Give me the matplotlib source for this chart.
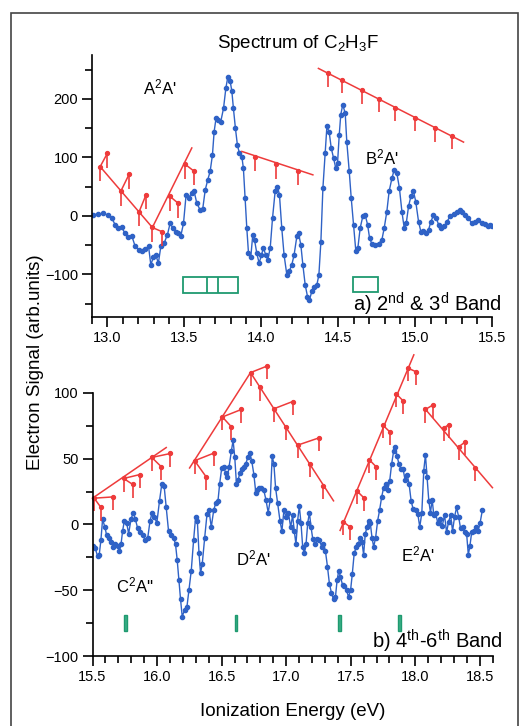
import numpy as np
import matplotlib
matplotlib.use("Agg")
import matplotlib.pyplot as plt
from matplotlib.ticker import MultipleLocator, FormatStrFormatter
from matplotlib.patches import Rectangle

plt.rcParams['font.family'] = ['Liberation Sans', 'DejaVu Sans']
plt.rcParams['mathtext.fontset'] = 'custom'
plt.rcParams['mathtext.rm'] = 'Liberation Sans'
plt.rcParams['mathtext.it'] = 'Liberation Sans'

BLUE = '#2f62c6'
RED = '#ee3b3b'
GREEN = '#1f9a70'

# ---- panel a: 2nd & 3rd band ----
a_energy = [12.909, 12.942, 12.974, 13.007, 13.028, 13.050, 13.072, 13.093, 13.115, 13.137,
            13.158, 13.180, 13.202, 13.223, 13.245, 13.267, 13.282, 13.299, 13.314, 13.331,
            13.347, 13.368, 13.390, 13.407, 13.425, 13.446, 13.461, 13.476, 13.494, 13.511,
            13.528, 13.548, 13.563, 13.580, 13.602, 13.619, 13.635, 13.652, 13.667, 13.682,
            13.693, 13.706, 13.721, 13.736, 13.754, 13.769, 13.782, 13.797, 13.808, 13.818,
            13.831, 13.844, 13.857, 13.873, 13.883, 13.894, 13.905, 13.916, 13.931, 13.944,
            13.955, 13.970, 13.985, 14.000, 14.013, 14.028, 14.041, 14.057, 14.072, 14.089,
            14.104, 14.117, 14.132, 14.147, 14.165, 14.180, 14.197, 14.212, 14.230, 14.241,
            14.256, 14.269, 14.284, 14.299, 14.312, 14.327, 14.342, 14.360, 14.373, 14.386,
            14.399, 14.414, 14.425, 14.440, 14.453, 14.468, 14.483, 14.494, 14.505, 14.515,
            14.528, 14.544, 14.554, 14.570, 14.583, 14.598, 14.613, 14.626, 14.641, 14.658,
            14.673, 14.689, 14.702, 14.717, 14.738, 14.760, 14.782, 14.797, 14.814, 14.829,
            14.847, 14.862, 14.879, 14.896, 14.912, 14.927, 14.940, 14.955, 14.970, 14.987,
            15.002, 15.020, 15.035, 15.052, 15.070, 15.085, 15.100, 15.117, 15.135, 15.150,
            15.167, 15.186, 15.204, 15.225, 15.247, 15.269, 15.286, 15.301, 15.323, 15.344,
            15.366, 15.388, 15.409, 15.431, 15.453, 15.468, 15.485, 15.499]
a_signal = [2, 3, 4, 1, -4, -15, -21, -20, -30, -37,
            -34, -52, -58, -61, -57, -52, -84, -70, -67, -81,
            -52, -47, -32, -13, -21, -27, -30, -35, -13, 36,
            31, 39, 42, 22, 10, 12, 44, 62, 76, 104,
            144, 168, 164, 161, 184, 218, 238, 230, 213, 184,
            150, 121, 107, 101, 81, 30, -21, -64, -70, -32,
            -41, -64, -81, -67, -55, -67, -75, -55, -4, 42,
            50, 36, -21, -67, -101, -95, -84, -67, -35, -30,
            -50, -84, -118, -138, -144, -129, -121, -118, -101, -44,
            47, 107, 153, 143, 116, 99, 81, 90, 138, 173,
            190, 175, 127, 76, 30, -15, -61, -55, -21, -1,
            2, -15, -38, -48, -50, -48, -41, -21, 7, 42,
            64, 79, 73, 47, 7, -21, -13, 16, 33, 42,
            24, -10, -27, -26, -30, -24, -10, 1, -4, -15,
            -21, -18, -10, -1, 3, 7, 10, 6, 2, -4,
            -13, -10, -7, -13, -14, -18, -15, -18]

# vibrational progressions, panel a
a1_line_x = [12.953, 13.292, 13.548]
a1_line_y = [84, -20, 116]
a1_node_x = [12.953, 13.087, 13.206, 13.292, 13.407, 13.505]
a1_node_y = [84, 42, 7, -20, 33, 88]
a1_br_idx = [0, 1, 2, 3, 4, 5]
a1_br_x = [13.000, 13.141, 13.251, 13.353, 13.457, 13.559]
a1_br_y = [107, 71, 36, -27, 22, 77]

a2_line_x = [13.873, 14.334]
a2_line_y = [110, 70]
a2_node_x = [13.955, 14.096, 14.240]
a2_node_y = [101, 88, 77]

a3_line_x = [14.370, 15.312]
a3_line_y = [252, 126]
a3_node_x = [14.431, 14.526, 14.652, 14.762, 14.868, 14.998, 15.124, 15.236]
a3_node_y = [244, 233, 215, 200, 185, 168, 150, 137]

a_box_x = [[13.490, 13.851], [14.592, 14.755]]
a_box_y = [[-132, -105], [-130, -104]]
a_box_div = [13.645, 13.717]

# ---- panel b: 4th-6th band ----
b_energy = [15.505, 15.521, 15.539, 15.552, 15.565, 15.578, 15.596, 15.609, 15.625, 15.643,
            15.661, 15.677, 15.695, 15.708, 15.721, 15.733, 15.747, 15.765, 15.780, 15.798,
            15.816, 15.832, 15.850, 15.868, 15.889, 15.910, 15.928, 15.946, 15.962, 15.980,
            15.998, 16.019, 16.037, 16.055, 16.071, 16.089, 16.109, 16.128, 16.143, 16.156,
            16.169, 16.182, 16.195, 16.213, 16.231, 16.247, 16.265, 16.283, 16.299, 16.312,
            16.325, 16.337, 16.350, 16.369, 16.387, 16.402, 16.420, 16.439, 16.454, 16.472,
            16.485, 16.501, 16.516, 16.532, 16.545, 16.558, 16.576, 16.589, 16.602, 16.615,
            16.628, 16.641, 16.656, 16.672, 16.687, 16.703, 16.719, 16.734, 16.750, 16.765,
            16.778, 16.791, 16.809, 16.827, 16.843, 16.861, 16.877, 16.892, 16.905, 16.918,
            16.934, 16.952, 16.967, 16.983, 16.998, 17.017, 17.035, 17.050, 17.063, 17.076,
            17.089, 17.102, 17.115, 17.128, 17.141, 17.154, 17.167, 17.180, 17.193, 17.206,
            17.224, 17.242, 17.258, 17.276, 17.289, 17.304, 17.320, 17.335, 17.351, 17.367,
            17.382, 17.395, 17.408, 17.421, 17.437, 17.452, 17.468, 17.483, 17.499, 17.512,
            17.527, 17.543, 17.558, 17.574, 17.587, 17.600, 17.613, 17.626, 17.639, 17.652,
            17.665, 17.678, 17.693, 17.709, 17.724, 17.740, 17.755, 17.771, 17.786, 17.802,
            17.817, 17.833, 17.846, 17.859, 17.874, 17.890, 17.906, 17.921, 17.937, 17.952,
            17.968, 17.983, 18.002, 18.020, 18.035, 18.051, 18.066, 18.079, 18.092, 18.105,
            18.118, 18.131, 18.144, 18.157, 18.175, 18.191, 18.209, 18.227, 18.243, 18.258,
            18.274, 18.289, 18.305, 18.320, 18.336, 18.351, 18.367, 18.383, 18.398, 18.411,
            18.424, 18.437, 18.455, 18.471, 18.486, 18.502, 18.520]
b_signal = [-16, -18, -24, -23, -12, 4, -2, -8, -10, -13,
            -17, -15, -16, -20, -15, -5, 3, 1, -7, 4,
            9, 4, -3, -6, -8, -12, -10, 3, 9, 6,
            1, 18, 31, 29, 13, -5, -8, -10, -15, -27,
            -42, -57, -70, -65, -63, -50, -35, -12, 6, 3,
            -22, -37, -30, -10, 8, 11, -2, 11, 16, 18,
            31, 43, 44, 39, 36, 44, 56, 64, 51, 31,
            34, 39, 42, 44, 46, 51, 54, 48, 38, 24,
            26, 28, 28, 26, 19, 9, 19, 52, 46, 28,
            16, 3, -5, 11, 6, 9, -2, 7, -5, -15,
            3, 14, 1, -17, -22, -15, 1, 9, -2, -11,
            -15, -11, -12, -17, -15, -20, -32, -45, -52, -57,
            -55, -42, -35, -40, -46, -47, -50, -55, -50, -38,
            -22, -17, -15, -10, -13, -23, -7, -2, 3, 1,
            -10, -17, -10, 3, 11, 21, 28, 31, 26, 33,
            46, 56, 59, 52, 46, 42, 42, 34, 38, 31,
            18, 12, 11, 8, -2, 9, 41, 53, 36, 18,
            9, 19, 7, 9, 1, 4, -1, 7, -6, 2,
            7, -5, 6, 13, 6, -3, -2, -6, -7, -23,
            -16, -6, -5, -2, -5, 1, 11]

b1_line_x = [15.500, 16.071]
b1_line_y = [20, 58.5]
b1_node_x = [15.513, 15.741, 15.959]
b1_node_y = [20, 35, 51]
b1_br_idx = [0, 0, 1, 1, 2, 2]
b1_br_x = [15.661, 15.565, 15.868, 15.811, 16.104, 16.032]
b1_br_y = [21, 13, 38, 30.5, 54, 44]

b2_line_x = [16.252, 16.724, 17.367]
b2_line_y = [43, 115.5, 18]
b2_node_x = [16.291, 16.506, 16.724, 16.801, 16.905, 16.996, 17.094, 17.185, 17.289]
b2_node_y = [48.5, 81.75, 115.5, 104.25, 88, 74.25, 60.5, 46.25, 29.25]
b2_br_idx = [0, 0, 1, 1, 2, 4, 6]
b2_br_x = [16.439, 16.382, 16.654, 16.576, 16.853, 17.050, 17.258]
b2_br_y = [54.25, 36, 87.5, 74.25, 120.5, 93.5, 66]

b3_line_x = [17.418, 17.989]
b3_line_y = [-4.5, 129]
b3_node_x = [17.444, 17.548, 17.644, 17.750, 17.854, 17.942]
b3_node_y = [2, 25.5, 49.25, 75.5, 99.25, 119]
b3_br_idx = [0, 1, 2, 3, 4, 5]
b3_br_x = [17.496, 17.600, 17.696, 17.802, 17.906, 18.009]
b3_br_y = [-2, 20.5, 44, 70.5, 94, 116]

b4_line_x = [18.071, 18.598]
b4_line_y = [88.5, 28]
b4_node_x = [18.079, 18.222, 18.339, 18.463]
b4_node_y = [87.5, 73.5, 59.25, 43]
b4_br_idx = [0, 1, 2]
b4_br_x = [18.139, 18.261, 18.383]
b4_br_y = [91, 76, 62.5]

b_bar_x = [15.754, 16.610, 17.413, 17.880]
b_bar_y = [-81, -69]


def draw_tree(ax, line_x, line_y, node_x, node_y, stem, br_idx=(), br_x=(), br_y=()):
    ax.plot(line_x, line_y, color=RED, lw=1.1, clip_on=False)
    for i, bx, by in zip(br_idx, br_x, br_y):
        ax.plot([node_x[i], bx], [node_y[i], by], color=RED, lw=1.1, clip_on=False)
    xs = list(node_x) + list(br_x)
    ys = list(node_y) + list(br_y)
    ax.vlines(xs, [y - stem for y in ys], ys, color=RED, lw=1.2, clip_on=False)
    ax.plot(xs, ys, 'o', ms=2.8, color=RED, clip_on=False)


def style_axis(ax):
    ax.spines['top'].set_visible(False)
    ax.spines['right'].set_visible(False)
    for s in ('left', 'bottom'):
        ax.spines[s].set_linewidth(1.2)
    ax.xaxis.set_minor_locator(MultipleLocator(0.1))
    ax.xaxis.set_major_formatter(FormatStrFormatter('%.1f'))
    ax.tick_params(which='major', direction='out', length=7, width=1.2, labelsize=10.5, pad=3)
    ax.tick_params(which='minor', direction='out', length=5, width=1.2)


fig = plt.figure(figsize=(5.2, 7.26), dpi=100)

# panel a
ax1 = fig.add_axes([0.1769, 0.5634, 0.7702, 0.3609])
ax1.plot(a_energy, a_signal, '-o', color=BLUE, lw=1.0, ms=3, mec=BLUE)
draw_tree(ax1, a1_line_x, a1_line_y, a1_node_x, a1_node_y, 25, a1_br_idx, a1_br_x, a1_br_y)
draw_tree(ax1, a2_line_x, a2_line_y, a2_node_x, a2_node_y, 25)
draw_tree(ax1, a3_line_x, a3_line_y, a3_node_x, a3_node_y, 23)
for bx, by in zip(a_box_x, a_box_y):
    ax1.add_patch(Rectangle((bx[0], by[0]), bx[1] - bx[0], by[1] - by[0],
                            fill=False, ec=GREEN, lw=1.3))
ax1.vlines(a_box_div, a_box_y[0][0], a_box_y[0][1], color=GREEN, lw=1.3)
ax1.set_xlim(12.9, 15.5)
ax1.set_ylim(-173, 275)
ax1.set_xticks(np.arange(13.0, 15.51, 0.5))
ax1.set_yticks([-100, 0, 100, 200])
ax1.yaxis.set_minor_locator(MultipleLocator(50))
style_axis(ax1)
ax1.text(13.342, 219, "A$^2$A'", fontsize=12, ha='center', va='center')
ax1.text(14.784, 99, "B$^2$A'", fontsize=12, ha='center', va='center')

# panel b
ax2 = fig.add_axes([0.1779, 0.0964, 0.7696, 0.3623])
ax2.plot(b_energy, b_signal, '-o', color=BLUE, lw=1.0, ms=3, mec=BLUE)
draw_tree(ax2, b1_line_x, b1_line_y, b1_node_x, b1_node_y, 10, b1_br_idx, b1_br_x, b1_br_y)
draw_tree(ax2, b2_line_x, b2_line_y, b2_node_x, b2_node_y, 10, b2_br_idx, b2_br_x, b2_br_y)
draw_tree(ax2, b3_line_x, b3_line_y, b3_node_x, b3_node_y, 10, b3_br_idx, b3_br_x, b3_br_y)
draw_tree(ax2, b4_line_x, b4_line_y, b4_node_x, b4_node_y, 10, b4_br_idx, b4_br_x, b4_br_y)
for bx in b_bar_x:
    ax2.add_patch(Rectangle((bx - 0.01, b_bar_y[0]), 0.02, b_bar_y[1] - b_bar_y[0],
                            fc='#3aae86', ec=GREEN, lw=1.0))
ax2.set_xlim(15.5, 18.6)
ax2.set_ylim(-100, 100)
ax2.set_xticks(np.arange(15.5, 18.51, 0.5))
ax2.set_yticks([-100, -50, 0, 50, 100])
ax2.yaxis.set_minor_locator(MultipleLocator(25))
style_axis(ax2)
ax2.text(15.824, -46, "C$^2$A''", fontsize=12, ha='center', va='center')
ax2.text(16.742, -25.5, "D$^2$A'", fontsize=12, ha='center', va='center')
ax2.text(18.017, -23, "E$^2$A'", fontsize=12, ha='center', va='center')

# figure texts
fig.text(298 / 520, 1 - 43 / 726, "Spectrum of C$_2$H$_3$F", fontsize=13.5, ha='center', va='center')
fig.text(502 / 520, 1 - 304 / 726, "a) 2$^{nd}$ & 3$^{d}$ Band", fontsize=14.5, ha='right', va='center')
fig.text(503 / 520, 1 - 641 / 726, "b) 4$^{th}$-6$^{th}$ Band", fontsize=14.5, ha='right', va='center')
fig.text(36 / 520, 1 - 362 / 726, "Electron Signal (arb.units)", fontsize=13.5,
         rotation=90, ha='center', va='center')
fig.text(293 / 520, 1 - 712 / 726, "Ionization Energy (eV)", fontsize=13.5, ha='center', va='center')

# outer frame
fig.add_artist(Rectangle((11 / 520, -0.01), 507 / 520, 1.01 - 13 / 726, transform=fig.transFigure,
                         fill=False, ec='#444444', lw=1.2))

fig.savefig('out.png', dpi=100)
